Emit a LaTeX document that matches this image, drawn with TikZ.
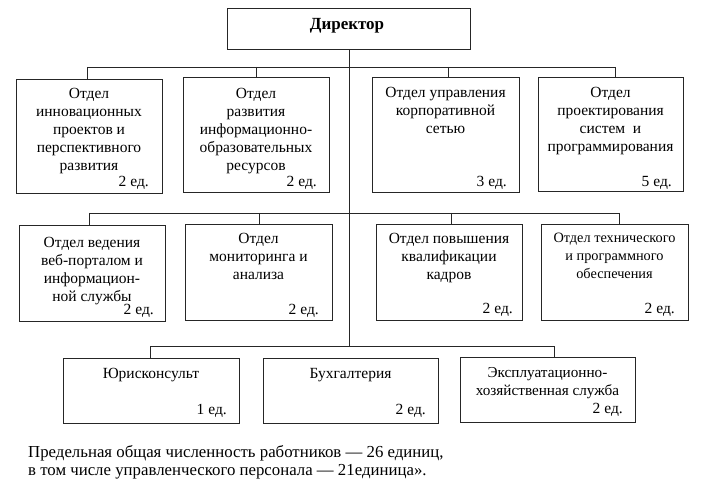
\documentclass[tikz,border=0pt]{standalone}
\usepackage{fontspec}
\setmainfont{Liberation Serif}
\newcommand\fsbox{\fontsize{15.5}{18}\selectfont}
\newcommand\fssmall{\fontsize{14.3}{18}\selectfont}
\newcommand\fsmid{\fontsize{15.2}{18}\selectfont}
\newcommand\fsnote{\fontsize{16.8}{18}\selectfont}
\newcommand\fsdir{\fontsize{17}{18}\selectfont}
\newcommand\fl{\rule{0pt}{13pt}}
\begin{document}
\begin{tikzpicture}[x=1pt,y=-1pt,
  box/.style={draw=black!85, line width=0.8pt, inner sep=0pt, anchor=north west},
  lbl/.style={inner sep=0pt, align=center, anchor=north, font=\fsbox},
  unit/.style={inner sep=0pt, anchor=base east, font=\fsbox},
  conn/.style={draw=black!85, line width=0.8pt}]
\useasboundingbox (0,0) rectangle (706,502);
% Director
\node[box, minimum width=243pt, minimum height=41pt] (dir) at (227,8) {};
\node[inner sep=0pt, anchor=base, font=\fsdir\bfseries] (dirt) at (347,30) {Директор};
% Row 1
\node[box, minimum width=146pt, minimum height=114pt] (b1) at (16,79) {};
\node[lbl] (b1t) at (89,85) {\fl Отдел\\инновационных\\проектов и\\перспективного\\развития};
\node[unit] (b1u) at (149,187) {2 ед.};
\node[box, minimum width=146pt, minimum height=115pt] (b2) at (183,77) {};
\node[lbl] (b2t) at (256,85) {\fl Отдел\\развития\\информационно-\\образовательных\\ресурсов};
\node[unit] (b2u) at (317,187) {2 ед.};
\node[box, minimum width=147pt, minimum height=115pt] (b3) at (372,77) {};
\node[lbl] (b3t) at (445.5,84) {\fl Отдел управления\\корпоративной\\сетью};
\node[unit] (b3u) at (507,187) {3 ед.};
\node[box, minimum width=145pt, minimum height=114pt] (b4) at (538,77) {};
\node[lbl] (b4t) at (610.5,84) {\fl Отдел\\проектирования\\систем\ \ и\\программирования};
\node[unit] (b4u) at (672,187) {5 ед.};
% Row 2
\node[box, minimum width=146pt, minimum height=96pt] (b5) at (19,225) {};
\node[lbl] (b5t) at (92,234) {\fl Отдел ведения\\веб-порталом и\\информацион-\\ной службы};
\node[unit] (b5u) at (154,315) {2 ед.};
\node[box, minimum width=147pt, minimum height=96pt] (b6) at (185,224) {};
\node[lbl] (b6t) at (258.5,230) {\fl Отдел\\мониторинга и\\анализа};
\node[unit] (b6u) at (319,315) {2 ед.};
\node[box, minimum width=146pt, minimum height=96pt] (b7) at (376,224) {};
\node[lbl] (b7t) at (449,230) {\fl Отдел повышения\\квалификации\\кадров};
\node[unit] (b7u) at (513,313) {2 ед.};
\node[box, minimum width=147pt, minimum height=96pt] (b8) at (541,224) {};
\node[lbl, font=\fssmall] (b8t) at (614.5,229) {\fl Отдел технического\\и программного\\обеспечения};
\node[unit] (b8u) at (675,313) {2 ед.};
% Row 3
\node[box, minimum width=176pt, minimum height=65pt] (b9) at (63,358) {};
\node[lbl] (b9t) at (151,365) {\fl Юрисконсульт};
\node[unit] (b9u) at (227,414) {1 ед.};
\node[box, minimum width=175pt, minimum height=65pt] (b10) at (263,358) {};
\node[lbl] (b10t) at (350.5,365) {\fl Бухгалтерия};
\node[unit] (b10u) at (426,414) {2 ед.};
\node[box, minimum width=175pt, minimum height=65pt] (b11) at (460,357) {};
\node[lbl, font=\fsmid] (b11t) at (547.5,364) {\fl Эксплуатационно-\\хозяйственная служба};
\node[unit] (b11u) at (623,413) {2 ед.};
% Note
\node[inner sep=0pt, anchor=north west, align=left, font=\fsnote] (note) at (28,444)
  {\fl Предельная общая численность работников — 26 единиц,\\в том числе управленческого персонала — 21единица».};
% Connectors
\coordinate (c1) at (349,67);
\coordinate (c2) at (349,213);
\coordinate (c3) at (349,346);
\coordinate (r11) at (87,67);
\coordinate (r12) at (256,67);
\coordinate (r13) at (448,67);
\coordinate (r14) at (615,67);
\coordinate (r21) at (89,213);
\coordinate (r22) at (259,213);
\coordinate (r23) at (451,213);
\coordinate (r24) at (619,213);
\coordinate (r31) at (150,346);
\coordinate (r32) at (554,346);
\draw[conn] (dir.south -| c1) -- (c3);
\draw[conn] (r11) -- (r14);
\draw[conn] (r21) -- (r24);
\draw[conn] (r31) -- (r32);
\draw[conn] (r11) -- (r11 |- b1.north);
\draw[conn] (r12) -- (r12 |- b2.north);
\draw[conn] (r13) -- (r13 |- b3.north);
\draw[conn] (r14) -- (r14 |- b4.north);
\draw[conn] (r21) -- (r21 |- b5.north);
\draw[conn] (r22) -- (r22 |- b6.north);
\draw[conn] (r23) -- (r23 |- b7.north);
\draw[conn] (r24) -- (r24 |- b8.north);
\draw[conn] (r31) -- (r31 |- b9.north);
\draw[conn] (r32) -- (r32 |- b11.north);
\end{tikzpicture}
\end{document}
